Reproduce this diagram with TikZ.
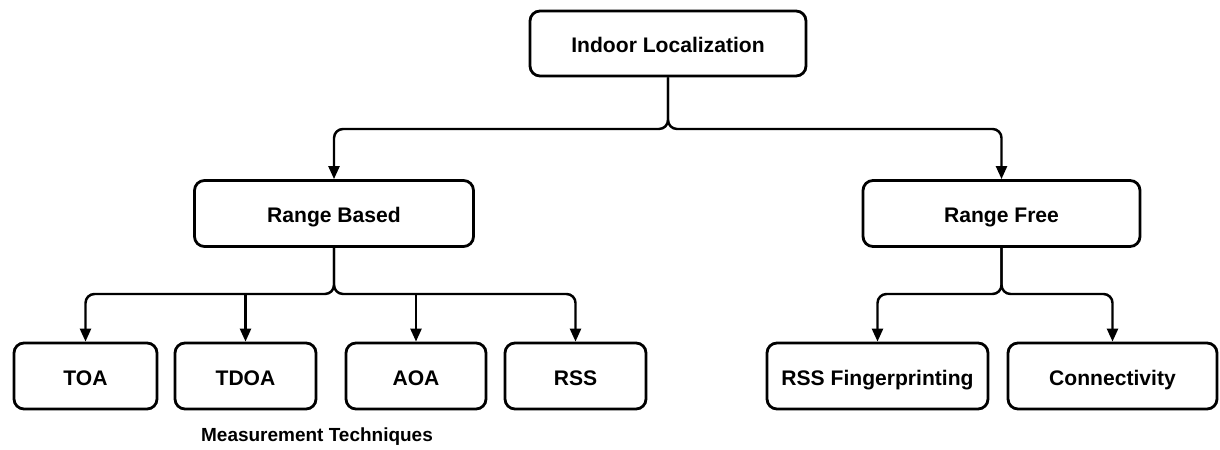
\documentclass[tikz,border=0pt]{standalone}
\usepackage{fontspec}
\setmainfont{Liberation Sans}
\usetikzlibrary{arrows.meta}
\tikzset{
 box/.style={draw,line width=1.6pt,rounded corners=0.2cm,minimum height=1.32cm,font=\bfseries\fontsize{12}{14}\selectfont,inner sep=0pt,text height=2.2ex,text depth=0.2ex},
 conn/.style={line width=1.4pt,rounded corners=0.18cm,-{Triangle[length=0.26cm,width=0.22cm]}}
}
\begin{document}
\begin{tikzpicture}
 \useasboundingbox (0,0) rectangle (24.4,8.98);
 \node[box,minimum width=5.52cm,minimum height=1.3cm] (indoor) at (13.36,8.11) {Indoor Localization};
 \node[box,minimum width=5.58cm] (rb) at (6.68,4.71) {Range Based};
 \node[box,minimum width=5.54cm] (rf) at (20.03,4.71) {Range Free};
 \node[box,minimum width=2.86cm] (toa) at (1.71,1.46) {TOA};
 \node[box,minimum width=2.82cm] (tdoa) at (4.91,1.46) {TDOA};
 \node[box,minimum width=2.8cm] (aoa) at (8.32,1.46) {AOA};
 \node[box,minimum width=2.82cm] (rss) at (11.51,1.46) {RSS};
 \node[box,minimum width=4.42cm] (rssfp) at (17.55,1.46) {RSS Fingerprinting};
 \node[box,minimum width=4.18cm] (connect) at (22.25,1.46) {Connectivity};
 \node[font=\bfseries\fontsize{10.8}{13}\selectfont] (meas) at (6.34,0.24) {Measurement Techniques};
 % split points
 \coordinate (top split) at (13.36,6.4);
 \coordinate (rb split) at (6.68,3.1);
 \coordinate (rf split) at (20.03,3.1);
 % top level
 \draw[conn] (indoor.south) -- (top split) -| (rb.north);
 \draw[conn] (indoor.south) -- (top split) -| (rf.north);
 % range based
 \draw[conn] (rb.south) -- (rb split) -| (toa.north);
 \draw[conn] (rb.south) -- (rb split) -| (rss.north);
 \draw[conn] (rb split -| tdoa.north) -- (tdoa.north);
 \draw[conn] (rb split -| aoa.north) -- (aoa.north);
 % range free
 \draw[conn] (rf.south) -- (rf split) -| (rssfp.north);
 \draw[conn] (rf.south) -- (rf split) -| (connect.north);
\end{tikzpicture}
\end{document}
